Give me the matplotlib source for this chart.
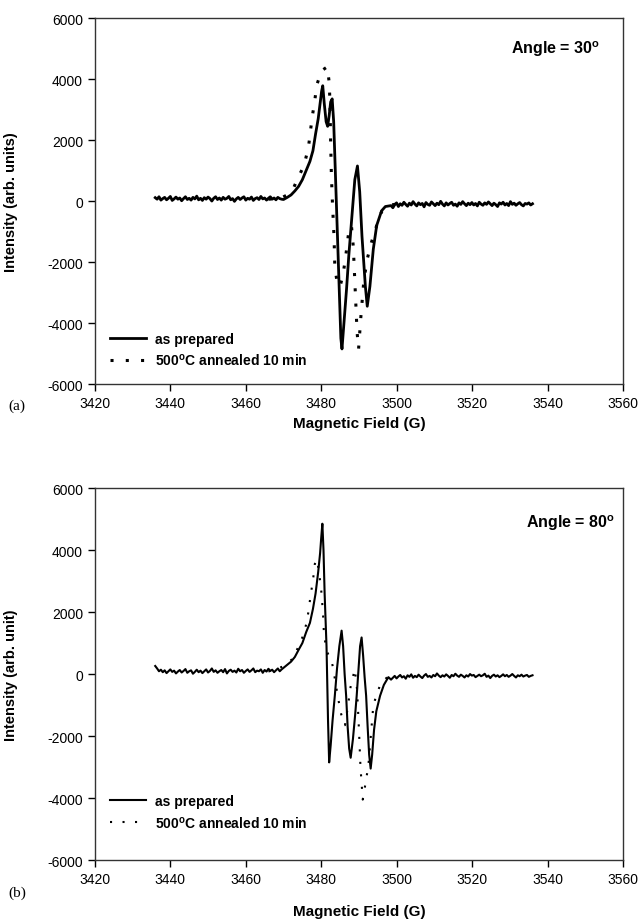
import numpy as np
import matplotlib
matplotlib.use('Agg')
import matplotlib.pyplot as plt

plt.rcParams['font.family'] = ['Liberation Sans', 'DejaVu Sans']
plt.rcParams['mathtext.fontset'] = 'custom'
plt.rcParams['mathtext.rm'] = 'Liberation Sans'
plt.rcParams['mathtext.bf'] = 'Liberation Sans:bold'
plt.rcParams['axes.unicode_minus'] = False


# SPECTRA
# ================================================================================

# (a) angle 30 deg, as prepared: baseline before and after the resonance
a_prep_left = [110, 60, 140, 30, 80, 120, 40, 90, 150, 20,
               70, 130, 60, 100, 10, 80, 140, 50, 90, 30,
               120, 70, 160, 40, 90, 20, 110, 60, 130, 80,
               0, 90, 140, 50, 100, 30, 120, 60, 90, 150,
               40, 80, -10, 70, 120, 50, 100, 140, 30, 90,
               60, 130, 20, 80, 110, 50, 150, 70, 100, 30,
               90, 140, 60, 100, 40, 120, 80, 60]
a_prep_right = [-150, -220, -120, -60, -180, -90, -140, -40, -110, -170,
                -70, -130, -20, -100, -160, -60, -120, -80, -190, -50,
                -110, -140, -30, -90, -150, -70, -120, -10, -100, -160,
                -60, -130, -80, -40, -140, -100, -170, -60, -110, -20,
                -90, -150, -70, -120, -50, -130, -80, -160, -40, -100,
                -140, -60, -110, -30, -90, -150, -70, -120, -180, -60,
                -100, -40, -130, -80, -150, -20, -110, -70, -140, -90,
                -50, -120, -160, -80, -100, -60, -130, -90]
a_prep_field = [3470.0, 3471.0, 3472.0, 3473.0, 3474.0, 3475.0, 3476.0, 3477.0,
                3477.8, 3478.5, 3479.2, 3479.7, 3480.1, 3480.4, 3480.8, 3481.3,
                3481.7, 3482.1, 3482.5, 3482.9, 3483.3, 3483.8, 3484.3, 3484.8,
                3485.2, 3485.5, 3485.9, 3486.7, 3487.3, 3488.0, 3488.9, 3489.6,
                3490.2, 3490.8, 3491.7, 3492.2, 3492.9, 3493.8, 3494.7, 3496.0,
                3497.0]
a_prep_int = [50, 120, 200, 330, 480, 700, 1000, 1300,
              1650, 2200, 2700, 3200, 3600, 3780, 3200, 2600,
              2450, 2800, 3250, 3350, 2600, 700, -1100, -3000,
              -4500, -4850, -4200, -2900, -1800, -700, 700, 1150,
              300, -1150, -2800, -3450, -2800, -1580, -800, -320,
              -180]

# (a) annealed 500 C
a_ann_field = [3466.0, 3469.0, 3471.0, 3472.5, 3473.9, 3475.0, 3475.7, 3476.6,
               3477.6, 3478.3, 3478.8, 3480.1, 3481.0, 3481.6, 3482.1, 3482.3,
               3482.5, 3482.7, 3483.0, 3483.4, 3483.6, 3484.3, 3485.0, 3485.8,
               3486.5, 3487.2, 3488.0, 3488.5, 3489.0, 3489.5, 3489.9, 3490.5,
               3491.3, 3492.2, 3493.3, 3494.7, 3496.0, 3497.5, 3500.0]
a_ann_int = [60, 80, 200, 380, 780, 1050, 1300, 1750,
             2750, 3300, 3800, 4270, 4350, 4400, 3900, 3300,
             1900, 800, -150, -1200, -2150, -2750, -2800, -2400,
             -1800, -1100, -800, -1500, -2900, -4300, -4850, -3800,
             -2600, -1900, -1360, -800, -350, -150, -100]

# (b) angle 80 deg, as prepared
b_prep_left = [260, 180, 90, 140, 60, 120, 30, 90, 150, 70,
               110, 20, 80, 130, 50, 100, 160, 40, 90, 120,
               10, 70, 140, 60, 110, 30, 90, 150, 50, 100,
               180, 70, 120, 40, 90, 130, 60, 160, 20, 100,
               140, 70, 110, 50, 170, 90, 130, 40, 100, 150,
               70, 120, 180, 60, 110, 90, 150, 40, 130, 80,
               170, 100, 140, 60, 120, 180, 90, 150]
b_prep_right = [-180, -120, -60, -140, -80, -30, -110, -70, -150, -40,
                -90, -10, -120, -60, -100, -20, -80, -130, -50, 0,
                -90, -60, -110, -30, -70, 20, -50, -100, -40, -80,
                -10, -60, -120, -30, -70, 10, -50, -90, -20, -60,
                -110, -40, -80, 0, -50, -30, -100, -60, -20, -70,
                -40, 10, -90, -50, -130, -60, -20, -80, -40, -100,
                -60, -10, -70, -30, -90, -50, 0, -60, -110, -40,
                -70, -20, -80, -50, -30, -90, -60, -40]
b_prep_field = [3470.0, 3471.0, 3472.0, 3473.0, 3474.0, 3475.0, 3476.0, 3477.0,
                3477.8, 3478.5, 3479.2, 3479.7, 3480.0, 3480.3, 3480.6, 3480.9,
                3481.4, 3481.8, 3482.1, 3482.5, 3483.0, 3483.6, 3484.2, 3484.8,
                3485.4, 3485.8, 3486.2, 3486.6, 3487.0, 3487.4, 3487.8, 3488.4,
                3489.0, 3489.4, 3489.9, 3490.3, 3490.7, 3491.1, 3491.5, 3491.9,
                3492.3, 3492.7, 3493.1, 3493.5, 3494.0, 3494.6, 3495.6, 3496.6,
                3497.8]
b_prep_int = [200, 300, 400, 550, 780, 1000, 1350, 1650,
              2100, 2600, 3300, 3900, 4400, 4850, 4000, 2600,
              900, -1500, -2850, -2300, -1500, -700, 200, 900,
              1400, 900, 0, -700, -1700, -2400, -2700, -2100,
              -1300, -700, 200, 900, 1180, 600, -100, -700,
              -1700, -2600, -3050, -2600, -1800, -1200, -700, -350,
              -100]

# (b) annealed 500 C
b_ann_field = [3466.0, 3470.0, 3472.5, 3474.0, 3475.2, 3476.0, 3476.6, 3477.0,
               3477.9, 3478.3, 3478.8, 3479.3, 3479.7, 3480.1, 3480.5, 3480.7,
               3481.2, 3481.8, 3482.7, 3483.2, 3483.8, 3484.5, 3485.3, 3486.3,
               3487.0, 3487.8, 3488.9, 3489.5, 3490.0, 3490.4, 3490.8, 3491.0,
               3491.5, 3492.5, 3493.8, 3494.7, 3495.8, 3497.5, 3500.0]
b_ann_int = [80, 250, 500, 900, 1240, 1600, 2000, 2370,
             3120, 3550, 3700, 3400, 3000, 2580, 1880, 1350,
             900, 650, 450, 160, -300, -800, -1300, -1650,
             -1100, -400, 160, -500, -1800, -3000, -3700, -4050,
             -3700, -2950, -1020, -650, -300, -100, -60]

x_ticks = [3420, 3440, 3460, 3480, 3500, 3520, 3540, 3560]
y_ticks = [-6000, -4000, -2000, 0, 2000, 4000, 6000]


def sweep(left, field, intensity, right):
    # noisy baseline sampled every 0.5 G on both sides of the resonance
    x_left = np.linspace(3436.0, 3469.5, len(left))
    x_right = np.linspace(3498.5, 3536.0, len(right))
    x = np.concatenate([x_left, field, x_right])
    y = np.concatenate([left, intensity, right])
    return x, y


def panel(ax, prep, ann, angle, ylabel, lw, dot_lw, dot_style, legend_y, angle_pos, xlabel_y):
    ax.plot(ann[0], ann[1], color='black', linewidth=dot_lw, linestyle=dot_style,
            dash_capstyle='butt', label=r'500$^\mathbf{o}$C annealed 10 min', zorder=2)
    ax.plot(prep[0], prep[1], color='black', linewidth=lw, solid_joinstyle='round',
            label='as prepared', zorder=3)

    ax.set_xlim(3420, 3560)
    ax.set_ylim(-6000, 6000)
    ax.set_xticks(x_ticks)
    ax.set_yticks(y_ticks)
    ax.tick_params(direction='out', length=5, width=1, labelsize=10, top=False, right=False)
    for side in ax.spines.values():
        side.set_linewidth(1.0)
        side.set_color('#333333')

    ax.set_xlabel('Magnetic Field (G)', fontsize=11, fontweight='bold')
    ax.set_ylabel(ylabel, fontsize=10.5, fontweight='bold')
    ax.xaxis.set_label_coords(0.5, xlabel_y)
    ax.yaxis.set_label_coords(-0.146, 0.5)

    ax.text(angle_pos[0], angle_pos[1], r'Angle = %d$^\mathbf{o}$' % angle, transform=ax.transAxes,
            ha='right', va='center', fontsize=11.5, fontweight='bold')

    handles, labels = ax.get_legend_handles_labels()
    ax.legend(handles[::-1], labels[::-1], loc='lower left', bbox_to_anchor=(0.028, legend_y),
              frameon=False, borderpad=0, borderaxespad=0, handlelength=2.6, handletextpad=0.7,
              labelspacing=0.45, prop={'weight': 'bold', 'size': 10})


fig = plt.figure(figsize=(6.41, 9.2), dpi=100)
ax_a = fig.add_axes([0.148, 0.5815, 0.824, 0.3978])
ax_b = fig.add_axes([0.148, 0.0641, 0.824, 0.4043])

panel(ax_a,
      sweep(a_prep_left, a_prep_field, a_prep_int, a_prep_right),
      (a_ann_field, a_ann_int),
      30, 'Intensity (arb. units)', 2.0, 2.2, (0, (1, 4)), 0.044, (0.956, 0.918), -0.087)
panel(ax_b,
      sweep(b_prep_left, b_prep_field, b_prep_int, b_prep_right),
      (b_ann_field, b_ann_int),
      80, 'Intensity (arb. unit)', 1.5, 1.5, (0, (1, 5)), 0.08, (0.985, 0.909), -0.118)

fig.text(8 / 641, 1 - 406 / 920, '(a)', family='Liberation Serif', fontsize=11, va='center')
fig.text(8 / 641, 1 - 893 / 920, '(b)', family='Liberation Serif', fontsize=11, va='center')

fig.savefig('out.png', dpi=100)
